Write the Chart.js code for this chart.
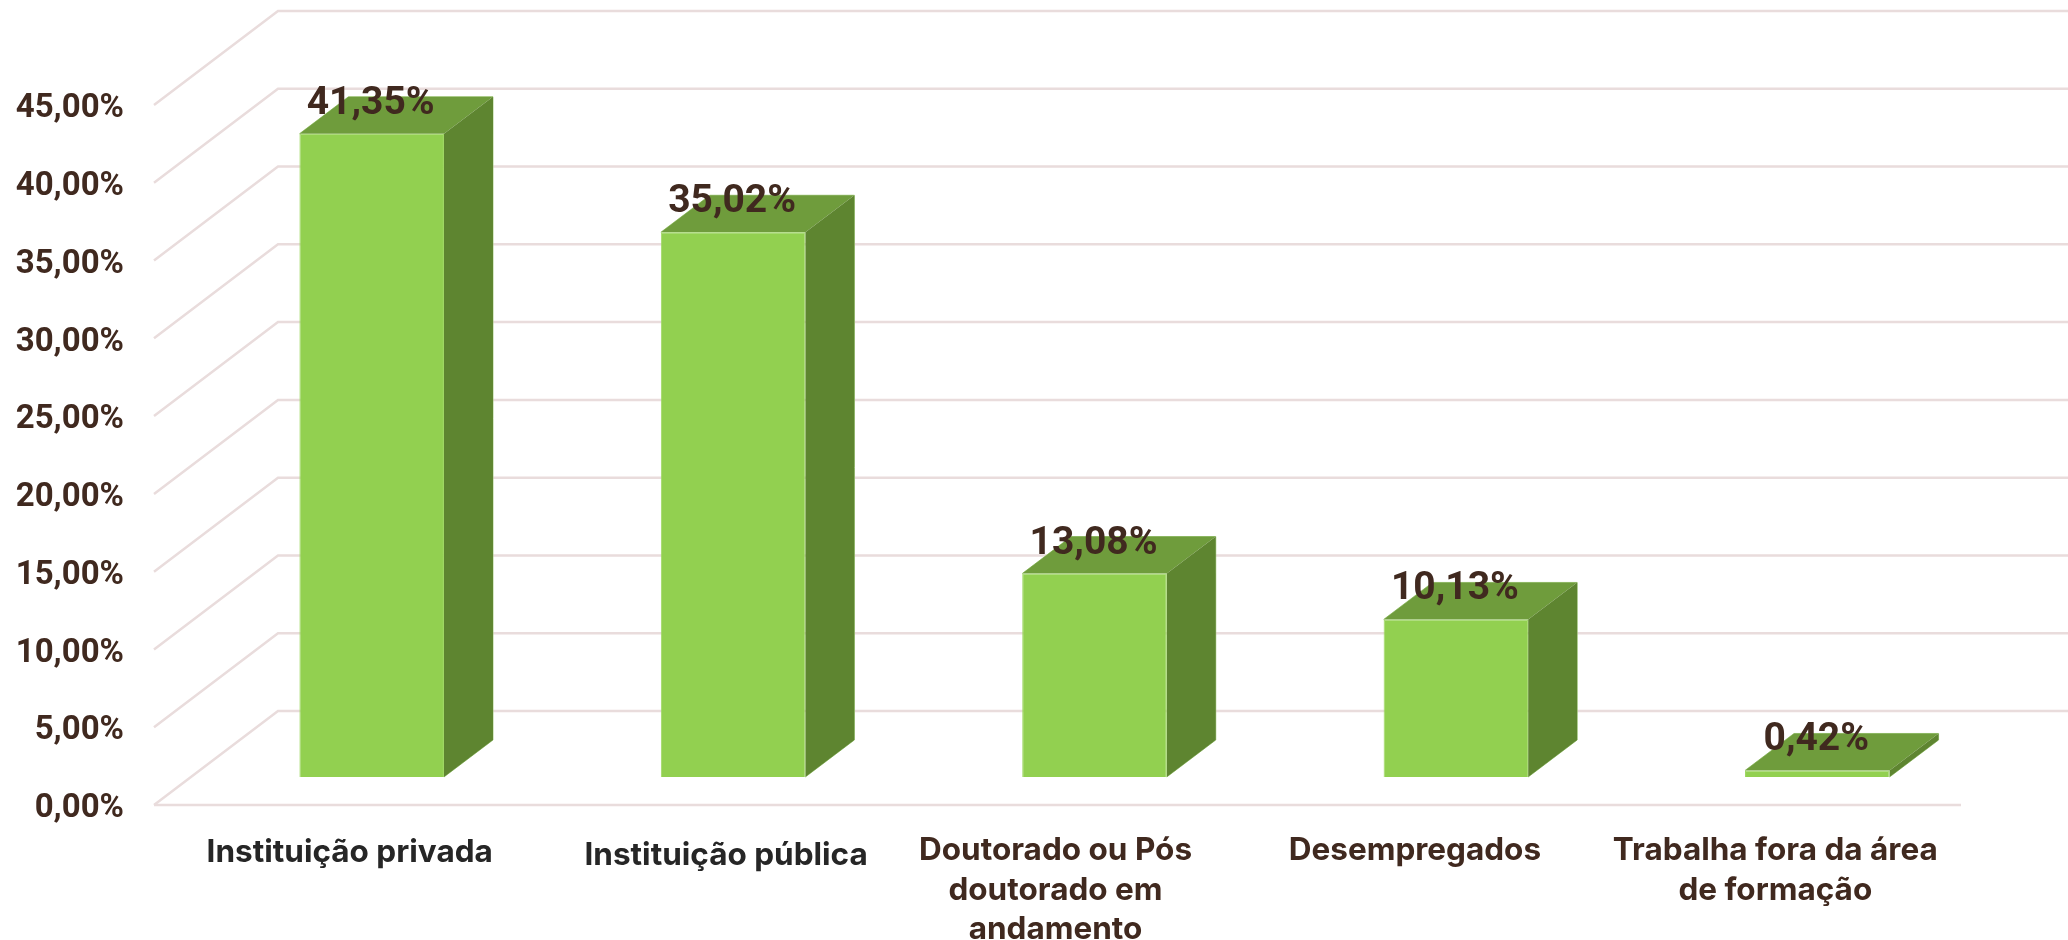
<!DOCTYPE html>
<html>
<head>
<meta charset="utf-8">
<title>Chart</title>
<script src="https://cdn.jsdelivr.net/npm/chart.js@4/dist/chart.umd.min.js"></script>
<style>
  html, body { margin: 0; padding: 0; background: #fff; }
  canvas { display: block; }
</style>
</head>
<body>
<canvas id="mycanvas" width="2068" height="940"></canvas>
<script>
var categories = [
  "Instituição privada",
  "Instituição pública",
  ["Doutorado ou Pós", "doutorado em", "andamento"],
  "Desempregados",
  ["Trabalha fora da área", "de formação"]
];
var percent = [41.35, 35.02, 13.08, 10.13, 0.42];
var yTicks = ["0,00%", "5,00%", "10,00%", "15,00%", "20,00%", "25,00%", "30,00%", "35,00%", "40,00%", "45,00%"];
var labelShift = [-22, -7, -39, -41, -42];
var labelDrop = [2, 5, 0, 0, 0];

var frontColor = "#92d050";
var topColor = "#6f9c3c";
var sideColor = "#5e8530";
var edgeColor = "#a9cf85";
var gridColor = "#e9dcdc";
var textColor = "#40291f";
var wallDepth = [124, -94];
var barDepth = [49, -37];

function pctText(v) {
  return v.toFixed(2).replace(".", ",") + "%";
}

function poly(ctx, pts, fill) {
  ctx.beginPath();
  ctx.moveTo(pts[0][0], pts[0][1]);
  for (var i = 1; i < pts.length; i++) ctx.lineTo(pts[i][0], pts[i][1]);
  ctx.closePath();
  ctx.fillStyle = fill;
  ctx.fill();
}

// back wall, floor diagonals and the bar's top + side faces
var box3d = {
  id: "box3d",
  beforeDraw: function (chart) {
    // individual offsets of the category labels (scale labels draw before the datasets)
    var x = chart.scales.x;
    var items = x.getLabelItems();
    if (!items.nudged) {
      items.forEach(function (item, i) {
        item.options.translation[0] = x.getPixelForTick(i) + labelShift[i];
        item.options.translation[1] += labelDrop[i];
      });
      items.nudged = true;
    }
  },
  beforeDatasetsDraw: function (chart) {
    var ctx = chart.ctx;
    var y = chart.scales.y;
    var frontLeft = 154, frontRight = 1961;
    ctx.save();
    ctx.strokeStyle = gridColor;
    ctx.lineWidth = 2.5;
    y.ticks.forEach(function (t) {
      var py = y.getPixelForValue(t.value);
      ctx.beginPath();
      ctx.moveTo(frontLeft, py);
      ctx.lineTo(frontLeft + wallDepth[0], py + wallDepth[1]);
      ctx.lineTo(chart.width, py + wallDepth[1]);
      ctx.stroke();
    });
    var base = y.getPixelForValue(0);
    ctx.beginPath();
    ctx.moveTo(frontLeft, base);
    ctx.lineTo(frontRight, base);
    ctx.stroke();

    ctx.lineWidth = 1;
    ctx.strokeStyle = edgeColor;
    chart.getDatasetMeta(0).data.forEach(function (bar) {
      var l = bar.x - bar.width / 2, r = bar.x + bar.width / 2;
      var t = bar.y, b = bar.base;
      var dx = barDepth[0], dy = barDepth[1];
      ctx.beginPath();
      ctx.moveTo(l, t);
      ctx.lineTo(l + dx, t + dy);
      ctx.lineTo(r + dx, t + dy);
      ctx.lineTo(r + dx, b + dy);
      ctx.lineTo(r, b);
      ctx.stroke();
      poly(ctx, [[l, t], [r, t], [r + dx, t + dy], [l + dx, t + dy]], topColor);
      poly(ctx, [[r, t], [r + dx, t + dy], [r + dx, b + dy], [r, b]], sideColor);
    });
    ctx.restore();
  },
  afterDatasetsDraw: function (chart) {
    var ctx = chart.ctx;
    ctx.save();
    ctx.font = "bold 39px Roboto";
    ctx.fillStyle = textColor;
    ctx.textAlign = "center";
    ctx.textBaseline = "alphabetic";
    chart.getDatasetMeta(0).data.forEach(function (bar, i) {
      ctx.fillText(pctText(percent[i]), bar.x - 1, bar.y - 20);
    });
    ctx.restore();
  }
};

var chart = new Chart(document.getElementById("mycanvas"), {
  type: "bar",
  plugins: [box3d],
  data: {
    labels: categories,
    datasets: [{
      data: percent,
      yAxisID: "yBar",
      backgroundColor: frontColor,
      borderColor: "#9dd760",
      borderWidth: 1,
      barPercentage: 0.4,
      categoryPercentage: 1
    }]
  },
  options: {
    responsive: false,
    animation: false,
    layout: { padding: { top: 105, right: 70, bottom: 0, left: 0 } },
    plugins: { legend: { display: false }, tooltip: { enabled: false } },
    scales: {
      x: {
        grid: { display: false, drawTicks: false },
        border: { display: false },
        ticks: {
          padding: 26,
          maxRotation: 0,
          autoSkip: false,
          color: function (c) { return c.index < 2 ? "#262626" : textColor; },
          font: { family: "Inter", weight: "700", size: 31.5, lineHeight: 1.25 }
        },
        afterFit: function (s) { s.height = 135; }
      },
      y: {
        min: 0,
        max: 45,
        grid: { display: false, drawTicks: false },
        border: { display: false },
        ticks: {
          stepSize: 5,
          padding: 67,
          labelOffset: 4,
          color: textColor,
          font: { family: "Roboto", weight: "bold", size: 33 },
          callback: function (v) { return yTicks[v / 5]; }
        },
        afterFit: function (s) { s.width = 191; }
      },
      // the bars stand a bit inside the floor, so their zero sits above the axis zero
      yBar: {
        display: false,
        min: -1.8,
        max: 43.2
      }
    }
  }
});
</script>
</body>
</html>
